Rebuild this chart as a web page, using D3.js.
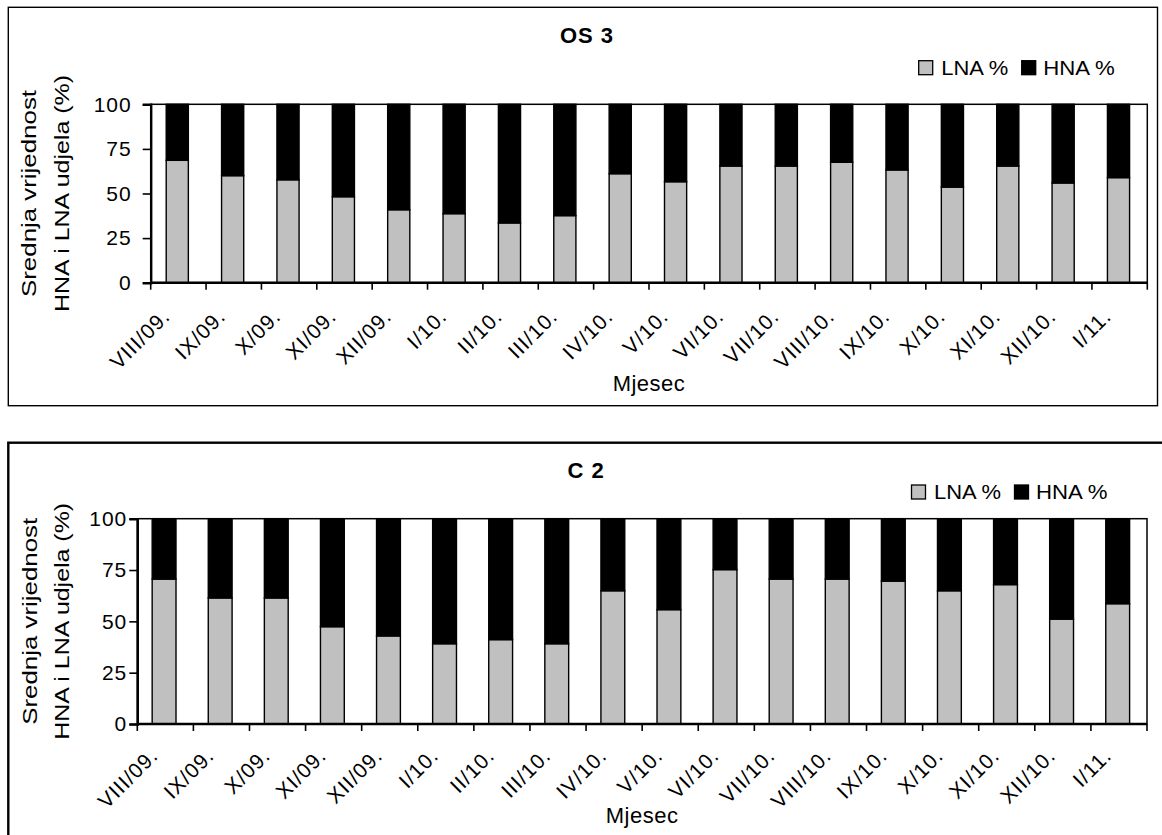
<!DOCTYPE html>
<html>
<head>
<meta charset="utf-8">
<script src="https://cdn.jsdelivr.net/npm/d3@7"></script>
<style>
  html, body { margin: 0; padding: 0; background: #fff; }
  svg { display: block; font-family: "Liberation Sans", Arial, sans-serif; }
</style>
</head>
<body>
<svg id="chart" width="1162" height="835"></svg>
<script>
// ---- data ----
const months = ["VIII/09.", "IX/09.", "X/09.", "XI/09.", "XII/09.", "I/10.", "II/10.", "III/10.", "IV/10.",
                "V/10.", "VI/10.", "VII/10.", "VIII/10.", "IX/10.", "X/10.", "XI/10.", "XII/10.", "I/11."];
const yTicks = [0, 25, 50, 75, 100];
const seriesNames = ["LNA %", "HNA %"];

const os3LNA = [68.6, 60.0, 57.7, 48.2, 40.9, 38.7, 33.5, 37.6, 61.1, 56.6, 65.4, 65.4, 67.5, 63.2, 53.6, 65.4, 55.9, 58.9];
const os3HNA = [31.4, 40.0, 42.3, 51.8, 59.1, 61.3, 66.5, 62.4, 38.9, 43.4, 34.6, 34.6, 32.5, 36.8, 46.4, 34.6, 44.1, 41.1];

const c2LNA = [70.6, 61.4, 61.4, 47.4, 42.9, 39.1, 41.1, 39.1, 64.9, 55.7, 75.2, 70.6, 70.6, 69.6, 64.9, 67.9, 51.1, 58.6];
const c2HNA = [29.4, 38.6, 38.6, 52.6, 57.1, 60.9, 58.9, 60.9, 35.1, 44.3, 24.8, 29.4, 29.4, 30.4, 35.1, 32.1, 48.9, 41.4];

const yTitle1 = "Srednja vrijednost";
const yTitle2 = "HNA i LNA udjela (%)";
const xTitle = "Mjesec";

// ---- drawing ----
const svg = d3.select("#chart");
const colors = {"LNA %": "#c0c0c0", "HNA %": "#000000"};

function drawChart(cfg) {
  const g = svg.append("g");

  // outer frame
  g.append("rect")
    .attr("x", cfg.frame[0]).attr("y", cfg.frame[1])
    .attr("width", cfg.frame[2] - cfg.frame[0]).attr("height", cfg.frame[3] - cfg.frame[1])
    .attr("fill", "none").attr("stroke", "#000").attr("stroke-width", cfg.frameWidth);

  const x = d3.scaleBand().domain(months).range([cfg.plot.left, cfg.plot.right]).padding(0);
  const y = d3.scaleLinear().domain([0, 100]).range([cfg.plot.bottom, cfg.plot.top]);

  const rows = months.map((m, i) => ({month: m, "LNA %": cfg.lna[i], "HNA %": cfg.hna[i]}));
  const stacked = d3.stack().keys(seriesNames)(rows);

  // plot area border
  g.append("rect")
    .attr("x", cfg.plot.left).attr("y", cfg.plot.top)
    .attr("width", cfg.plot.right - cfg.plot.left).attr("height", cfg.plot.bottom - cfg.plot.top)
    .attr("fill", "#fff").attr("stroke", "#000").attr("stroke-width", 1.5);

  const bw = x.bandwidth();
  g.selectAll("g.series").data(stacked).enter().append("g")
    .attr("class", "series")
    .attr("fill", d => colors[d.key])
    .selectAll("rect").data(d => d).enter().append("rect")
      .attr("x", d => x(d.data.month) + bw * cfg.barOffset)
      .attr("width", bw * cfg.barFrac)
      .attr("y", d => y(d[1]))
      .attr("height", d => y(d[0]) - y(d[1]))
      .attr("stroke", "#000").attr("stroke-width", 1.4);

  // y axis
  const yAxis = d3.axisLeft(y).tickValues(yTicks).tickSize(8).tickPadding(cfg.yTickPad);
  const ya = g.append("g").attr("transform", `translate(${cfg.plot.left},0)`).call(yAxis);
  ya.select(".domain").attr("stroke-width", 2.4);
  ya.selectAll(".tick line").attr("stroke-width", 1.6);
  ya.selectAll(".tick text")
    .attr("font-family", "Liberation Sans, Arial, sans-serif")
    .attr("font-size", 21).attr("letter-spacing", "1px").attr("fill", "#000");

  // x axis: ticks at category boundaries
  const boundaries = months.map(m => x(m)).concat([cfg.plot.right]);
  const xa = g.append("g");
  xa.append("line")
    .attr("x1", cfg.plot.left).attr("x2", cfg.plot.right)
    .attr("y1", cfg.plot.bottom).attr("y2", cfg.plot.bottom)
    .attr("stroke", "#000").attr("stroke-width", 2.4);
  xa.selectAll("line.tk").data(boundaries).enter().append("line")
    .attr("class", "tk")
    .attr("x1", d => d).attr("x2", d => d)
    .attr("y1", cfg.plot.bottom).attr("y2", cfg.plot.bottom + 7)
    .attr("stroke", "#000").attr("stroke-width", 1.6);
  xa.selectAll("text").data(months).enter().append("text")
    .attr("transform", d => `translate(${x(d) + bw / 2 + cfg.labelDx},${cfg.plot.bottom + cfg.labelDy}) rotate(-45)`)
    .attr("text-anchor", "end")
    .attr("font-size", 21).attr("letter-spacing", "1px")
    .text(d => d);

  // title
  g.append("text")
    .attr("x", cfg.title.x).attr("y", cfg.title.y)
    .attr("text-anchor", "middle").attr("font-weight", "bold").attr("font-size", 22)
    .attr("letter-spacing", "1px")
    .text(cfg.title.text);

  // x title
  g.append("text")
    .attr("x", (cfg.plot.left + cfg.plot.right) / 2).attr("y", cfg.xTitleY)
    .attr("text-anchor", "middle").attr("font-size", 22)
    .attr("letter-spacing", "0.5px")
    .text(xTitle);

  // y titles
  const yc = (cfg.plot.top + cfg.plot.bottom) / 2;
  [[yTitle1, cfg.yTitleX[0], 207], [yTitle2, cfg.yTitleX[1], 237]].forEach(([t, bx, len]) => {
    g.append("text")
      .attr("transform", `translate(${bx},${yc}) rotate(-90)`)
      .attr("text-anchor", "middle").attr("font-size", 21)
      .attr("textLength", len).attr("lengthAdjust", "spacingAndGlyphs")
      .text(t);
  });

  // legend
  const lg = g.append("g").attr("transform", `translate(${cfg.legend.x},${cfg.legend.y})`);
  const legendItems = [
    {key: "LNA %", sx: 0, tx: 22.5, len: 67},
    {key: "HNA %", sx: 103, tx: 124.5, len: 71.5}
  ];
  legendItems.forEach(it => {
    lg.append("rect").attr("x", it.sx).attr("y", 0).attr("width", 14).attr("height", 14)
      .attr("fill", colors[it.key]).attr("stroke", "#000").attr("stroke-width", 1.3);
    lg.append("text").attr("x", it.tx).attr("y", 14)
      .attr("font-size", 20).attr("textLength", it.len).attr("lengthAdjust", "spacingAndGlyphs")
      .text(it.key);
  });
}

drawChart({
  frame: [8.3, 7.3, 1157.5, 405.7], frameWidth: 1.4,
  plot: {left: 150.7, right: 1147.3, top: 104.3, bottom: 282.7},
  lna: os3LNA, hna: os3HNA,
  barOffset: 0.28, barFrac: 0.4,
  yTickPad: 11,
  labelDx: -7, labelDy: 35,
  title: {text: "OS 3", x: 587, y: 43},
  xTitleY: 390.5,
  yTitleX: [36, 68.5],
  legend: {x: 918.7, y: 60.7}
});

drawChart({
  frame: [8.3, 442.7, 1175, 850], frameWidth: 2.4,
  plot: {left: 137.3, right: 1147, top: 518.7, bottom: 724},
  lna: c2LNA, hna: c2HNA,
  barOffset: 0.265, barFrac: 0.425,
  yTickPad: 2,
  labelDx: -6, labelDy: 33,
  title: {text: "C 2", x: 586, y: 478.3},
  xTitleY: 823,
  yTitleX: [36.5, 68.5],
  legend: {x: 911.5, y: 485}
});
</script>
</body>
</html>
